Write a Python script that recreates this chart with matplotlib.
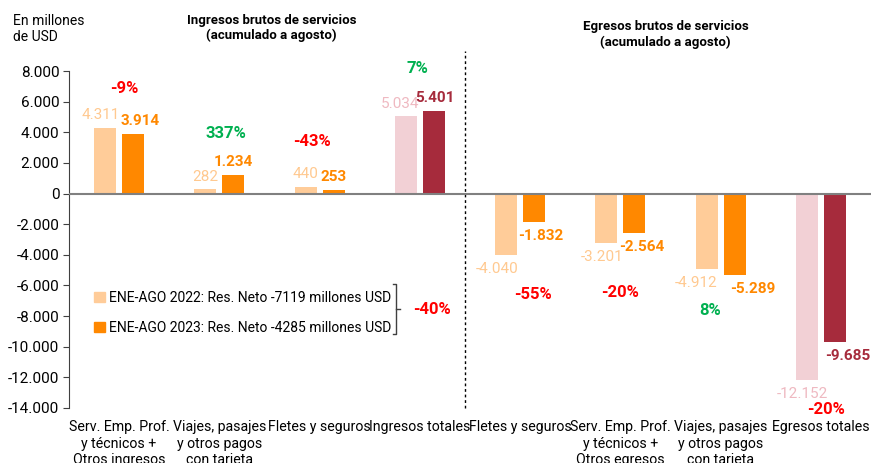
import matplotlib.pyplot as plt
import numpy as np
from matplotlib.patches import Patch

plt.rcParams['font.family'] = ['Roboto', 'DejaVu Sans']

categories = ['Serv. Emp. Prof.\ny técnicos +\nOtros ingresos',
              'Viajes, pasajes\ny otros pagos\ncon tarjeta',
              'Fletes y seguros', 'Ingresos totales',
              'Fletes y seguros',
              'Serv. Emp. Prof.\ny técnicos +\nOtros egresos',
              'Viajes, pasajes\ny otros pagos\ncon tarjeta',
              'Egresos totales']
v2022 = [4311, 282, 440, 5034, -4040, -3201, -4912, -12152]
v2023 = [3914, 1234, 253, 5401, -1832, -2564, -5289, -9685]
pct = ['-9%', '337%', '-43%', '7%', '-55%', '-20%', '8%', '-20%']
pct_color = ['red', 'green', 'red', 'green', 'red', 'red', 'green', 'red']

# layout: percentage label y (data units), x nudges (data), value label x nudges (px)
pct_y = [6840, 3910, 3390, 8140, -6580, -6450, -7620, -14070]
pct_dx = [0.05, 0.07, -0.08, -0.02, 0.13, 0.0, -0.1, 0.05]
nudge22 = [-4, 0, 0, -6, -9, -4, -10, -4]
nudge23 = [7, 0, 0, 1, 7, 7, 18, 13]

c_light = ['#FFCC99'] * 3 + ['#F2D0D5'] + ['#FFCC99'] * 3 + ['#F2D0D5']
c_dark = ['#FF8800'] * 3 + ['#A62B3C'] + ['#FF8800'] * 3 + ['#A62B3C']
lab_light = ['#FFC990'] * 3 + ['#EFB9C1'] + ['#FFC990'] * 3 + ['#EFB9C1']
colmap = {'red': '#FF0000', 'green': '#00B050'}

fig = plt.figure(figsize=(8.71, 4.63), dpi=100)
ax = fig.add_axes([0.0792, 0.1188, 0.9208, 0.7278])

x = np.arange(len(categories))
w = 0.22
ax.bar(x - 0.14, v2022, width=w, color=c_light, zorder=2)
ax.bar(x + 0.14, v2023, width=w, color=c_dark, zorder=2)

def fmt(v):
    return f'{v:,}'.replace(',', '.')

for i in range(len(x)):
    for dx, v, c, bold, nx in [(-0.14, v2022[i], lab_light[i], False, nudge22[i]),
                               (0.14, v2023[i], c_dark[i], True, nudge23[i])]:
        off = 4 if v > 0 else -5
        ax.annotate(fmt(v), (x[i] + dx, v), xytext=(nx * 0.72, off), textcoords='offset points',
                    ha='center', va='bottom' if v > 0 else 'top', color=c,
                    fontsize=11, fontweight='bold' if bold else 'normal')
    ax.text(x[i] + pct_dx[i], pct_y[i], pct[i], ha='center', va='center',
            color=colmap[pct_color[i]], fontsize=12, fontweight='bold')

ax.axhline(0, color='#808080', lw=1.5, zorder=3)
ax.plot([3.45, 3.45], [-14000, 9300], color='black', ls=(0, (2, 2)), lw=1, clip_on=False)

ax.set_xlim(-0.5, 7.5)
ax.set_ylim(-14000, 8000)
ax.set_yticks(np.arange(-14000, 8001, 2000))
ax.set_yticklabels([fmt(t) for t in range(-14000, 8001, 2000)], fontsize=11)
ax.set_xticks(x)
ax.set_xticklabels(categories, fontsize=10.2, linespacing=1.2)
ax.tick_params(axis='x', length=0, pad=9)
ax.tick_params(axis='y', length=4, direction='out', color='#404040', pad=3)
for s in ['top', 'right', 'bottom']:
    ax.spines[s].set_visible(False)
ax.spines['left'].set_color('#404040')

# legend
handles = [Patch(color='#FFCC99', label='ENE-AGO 2022: Res. Neto -7119 millones USD'),
           Patch(color='#FF8800', label='ENE-AGO 2023: Res. Neto -4285 millones USD')]
fig.legend(handles=handles, loc='upper left', bbox_to_anchor=(0.102, 0.383), frameon=False,
           fontsize=10, handlelength=0.75, handleheight=0.75, handletextpad=0.3,
           labelspacing=1.1, borderaxespad=0)

# bracket
bx = 2.76
ax.plot([bx - 0.03, bx, bx, bx - 0.03], [-5930, -5930, -9190, -9190], color='#404040', lw=1, clip_on=False)
ax.plot([bx, bx + 0.04], [-7560, -7560], color='#404040', lw=1)
ax.text(bx + 0.17, -7600, '-40%', color='#FF0000', fontsize=12, fontweight='bold', ha='left', va='center')

fig.text(0.015, 0.97, 'En millones\nde USD', fontsize=10, va='top', ha='left', linespacing=1.2)
fig.text(0.312, 0.97, 'Ingresos brutos de servicios\n(acumulado a agosto)', fontsize=9.5,
         fontweight='bold', ha='center', va='top', linespacing=1.2)
fig.text(0.764, 0.956, 'Egresos brutos de servicios\n(acumulado a agosto)', fontsize=9.5,
         fontweight='bold', ha='center', va='top', linespacing=1.2)

fig.savefig('out.png', dpi=100)
